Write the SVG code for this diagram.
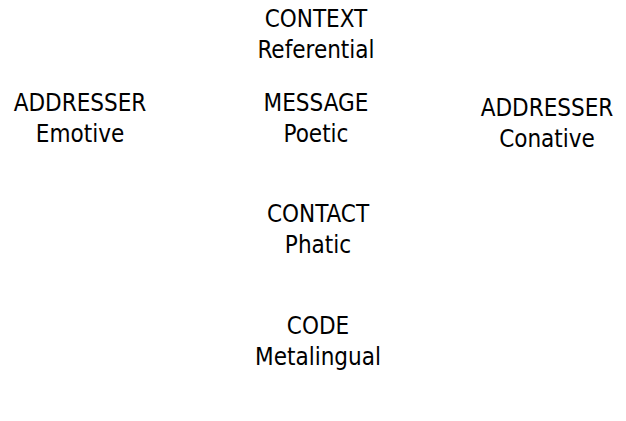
<svg xmlns="http://www.w3.org/2000/svg" width="626" height="421" viewBox="0 0 626 421">
<style>
text{font-family:"DejaVu Sans Condensed","DejaVu Sans",sans-serif;font-size:24px;fill:#000;text-anchor:middle}
</style>
<rect width="626" height="421" fill="#fff"/>
<g id="context"><text x="316" y="27">CONTEXT</text><text x="316" y="58">Referential</text></g>
<g id="addresser"><text x="80" y="111">ADDRESSER</text><text x="80" y="142">Emotive</text></g>
<g id="message"><text x="316" y="111">MESSAGE</text><text x="316" y="142">Poetic</text></g>
<g id="addressee"><text x="547" y="116">ADDRESSER</text><text x="547" y="147">Conative</text></g>
<g id="contact"><text x="318" y="222">CONTACT</text><text x="318" y="253">Phatic</text></g>
<g id="code"><text x="318" y="334">CODE</text><text x="318" y="365">Metalingual</text></g>
<g id="connectors"></g>
</svg>
